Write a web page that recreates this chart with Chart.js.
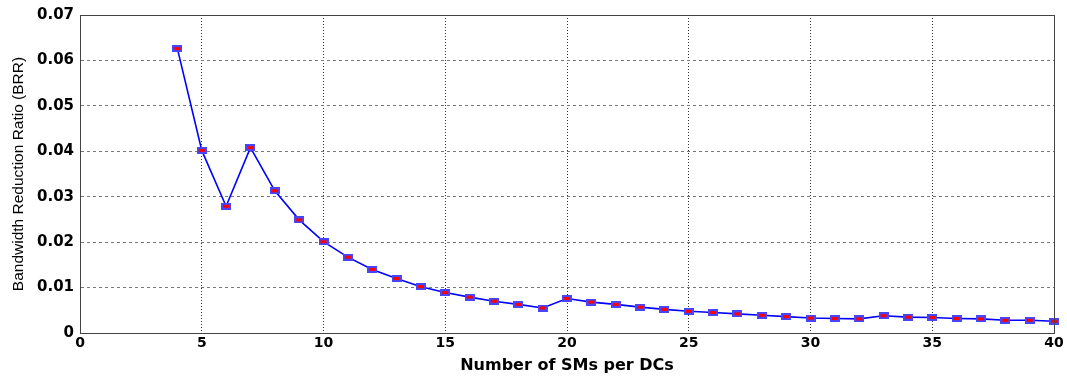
<!DOCTYPE html>
<html>
<head>
<meta charset="utf-8">
<script src="https://cdn.jsdelivr.net/npm/chart.js@4"></script>
<style>
html,body{margin:0;padding:0;background:#fff;}
#wrap{width:1067px;height:376px;position:relative;}
</style>
</head>
<body>
<div id="wrap"><canvas id="c" width="1067" height="376"></canvas></div>
<script>
const smCounts = [4,5,6,7,8,9,10,11,12,13,14,15,16,17,18,19,20,21,22,23,24,25,26,27,28,29,30,31,32,33,34,35,36,37,38,39,40];
const brrValues = [0.0626,0.0402,0.0279,0.0408,0.0313,0.0249,0.0201,0.0167,0.0140,0.0120,0.0102,0.0089,0.0079,0.0070,0.0063,0.0055,0.0076,0.0068,0.0063,0.0057,0.0052,0.0048,0.0045,0.0042,0.0039,0.0036,0.0033,0.0032,0.0031,0.0038,0.0035,0.0034,0.0032,0.0031,0.0028,0.0028,0.0026];
const xTicks = [0,5,10,15,20,25,30,35,40];
const yTicks = [0,0.01,0.02,0.03,0.04,0.05,0.06,0.07];
const xTitle = 'Number of SMs per DCs';
const yTitle = 'Bandwidth Reduction Ratio (BRR)';

// marker image: red square with blue edge, slightly wider than tall
const marker = document.createElement('canvas');
marker.width = 10; marker.height = 7;
(function () {
  const m = marker.getContext('2d');
  m.fillStyle = '#4646ff';
  m.fillRect(0, 0, 10, 7);
  m.fillStyle = '#ff0000';
  m.fillRect(2, 2, 6, 3);
})();

const boxPlugin = {
  id: 'box',
  afterDatasetsDraw(chart) {
    const a = chart.chartArea, ctx = chart.ctx;
    ctx.save();
    ctx.strokeStyle = '#444';
    ctx.lineWidth = 1;
    ctx.strokeRect(Math.round(a.left) + 0.5, Math.round(a.top) + 0.5, Math.round(a.right - a.left), Math.round(a.bottom - a.top));
    ctx.restore();
  }
};

new Chart(document.getElementById('c'), {
  type: 'line',
  data: {
    datasets: [{
      data: smCounts.map((x, i) => ({x: x, y: brrValues[i]})),
      borderColor: '#0000ff',
      borderWidth: 1.6,
      pointStyle: marker,
      pointRadius: 5,
      tension: 0,
      fill: false,
      clip: false
    }]
  },
  options: {
    responsive: false,
    animation: false,
    devicePixelRatio: 1,
    layout: {padding: {left: 0, right: 13, top: 13, bottom: 0}},
    plugins: {legend: {display: false}, tooltip: {enabled: false}},
    scales: {
      x: {
        type: 'linear', min: 0, max: 40,
        afterBuildTicks(s) { s.ticks = xTicks.map(v => ({value: v})); },
        afterFit(s) { s.height = 43; },
        grid: {color: '#333', drawTicks: false, lineWidth: 1},
        border: {display: true, color: '#444', width: 1, dash: [1, 2]},
        ticks: {color: '#000', font: {family: 'DejaVu Sans', size: 14, weight: 'bold'}, padding: 2, maxRotation: 0},
        title: {display: true, text: xTitle, color: '#000', font: {family: 'DejaVu Sans', size: 16, weight: 'bold'}, padding: {top: 0, bottom: 1}}
      },
      y: {
        type: 'linear', min: 0, max: 0.07,
        afterBuildTicks(s) { s.ticks = yTicks.map(v => ({value: v})); },
        afterFit(s) { s.width = 80; },
        grid: {color: '#777', drawTicks: false, lineWidth: 1},
        border: {display: true, color: '#444', width: 1, dash: [3, 3]},
        ticks: {color: '#000', font: {family: 'DejaVu Sans', size: 15, weight: 'bold'}, padding: 6,
          callback: v => v === 0 ? '0' : v.toFixed(2)},
        title: {display: true, text: yTitle, color: '#000', font: {family: 'Liberation Sans', size: 15.5}, padding: {top: 9, bottom: 0}}
      }
    }
  },
  plugins: [boxPlugin]
});
</script>
</body>
</html>
